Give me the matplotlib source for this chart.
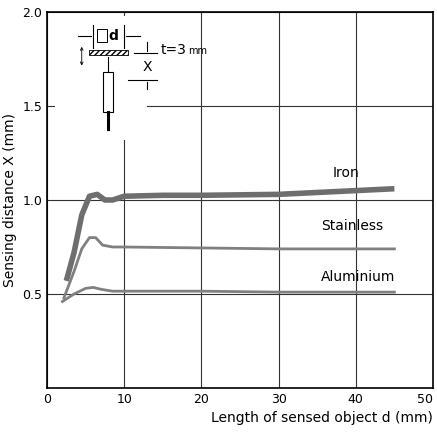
import numpy as np
import matplotlib.pyplot as plt
from matplotlib.patches import Rectangle

iron_d = [2.5, 3.5, 4.5, 5.5, 6.5, 7.5, 8.5, 10, 15, 20, 30, 40, 45]
iron_x = [0.57, 0.72, 0.92, 1.02, 1.03, 1.00, 1.00, 1.02, 1.025, 1.025, 1.03, 1.05, 1.06]
st_d = [2.2, 3.5, 4.5, 5.5, 6.3, 7.2, 8.5, 10, 20, 30, 40, 45]
st_x = [0.48, 0.62, 0.74, 0.80, 0.80, 0.76, 0.75, 0.75, 0.745, 0.74, 0.74, 0.74]
al_d = [2.0, 3.5, 5.0, 6.0, 7.0, 8.5, 10, 20, 30, 40, 45]
al_x = [0.46, 0.50, 0.53, 0.535, 0.525, 0.515, 0.515, 0.515, 0.51, 0.51, 0.51]

fig = plt.figure(figsize=(4.37, 4.37), dpi=100)
ax = fig.add_axes([47/437, 1-388/437, 386/437, 376/437])
ax.set_xlim(0, 50); ax.set_ylim(0, 2.0)
ax.set_xticks([0, 10, 20, 30, 40, 50]); ax.set_yticks([0.5, 1.0, 1.5, 2.0])
ax.set_yticklabels(['0.5', '1.0', '1.5', '2.0'])
ax.grid(True, color='#333333', lw=0.8)
ax.tick_params(length=0, labelsize=9)
ax.get_xticklabels()[-1].set_horizontalalignment('right')
for s in ax.spines.values(): s.set_linewidth(1.2)
ax.plot(iron_d, iron_x, color='#6e6e6e', lw=4, solid_capstyle='butt', zorder=3)
ax.plot(st_d, st_x, color='#808080', lw=2, zorder=3)
ax.plot(al_d, al_x, color='#808080', lw=2, zorder=3)
ax.text(37, 1.12, 'Iron', fontsize=10)
ax.text(35.5, 0.84, 'Stainless', fontsize=10)
ax.text(35.5, 0.57, 'Aluminium', fontsize=10)
ax.set_ylabel('Sensing distance X (mm)', fontsize=10)
ax.set_xlabel('Length of sensed object d (mm)', fontsize=10, loc='right')

T = ax.transAxes
ax.add_patch(Rectangle((0.02, 0.66), 0.24, 0.33, transform=T, fc='white', ec='none', zorder=4))
kw = dict(transform=T, color='black', lw=0.8, zorder=5)
ax.add_patch(Rectangle((0.11, 0.885), 0.10, 0.014, transform=T, fc='white', ec='black', hatch='//////', lw=0.6, zorder=5))
ax.plot([0.12, 0.12], [0.905, 0.965], **kw)
ax.plot([0.20, 0.20], [0.905, 0.965], **kw)
ax.plot([0.08, 0.115], [0.935, 0.935], **kw)
ax.plot([0.205, 0.24], [0.935, 0.935], **kw)
ax.add_patch(Rectangle((0.13, 0.92), 0.026, 0.035, transform=T, fc='white', ec='black', lw=0.7, zorder=5))
ax.text(0.16, 0.937, 'd', transform=T, fontsize=10, fontweight='bold', va='center', zorder=6)
ax.annotate('', xy=(0.09, 0.85), xytext=(0.09, 0.915), xycoords=T,
            arrowprops=dict(arrowstyle='<->', lw=0.6, mutation_scale=5), zorder=5)
ax.plot([0.158, 0.158], [0.84, 0.88], **kw)
ax.add_patch(Rectangle((0.146, 0.735), 0.024, 0.105, transform=T, fc='white', ec='black', lw=0.8, zorder=5))
ax.plot([0.158, 0.158], [0.69, 0.735], transform=T, color='black', lw=2.2, zorder=5)
ax.plot([0.225, 0.285], [0.89, 0.89], **kw)
ax.plot([0.21, 0.285], [0.82, 0.82], **kw)
ax.plot([0.26, 0.26], [0.895, 0.92], **kw)
ax.plot([0.26, 0.26], [0.795, 0.815], **kw)
ax.text(0.26, 0.855, 'X', transform=T, fontsize=10, ha='center', va='center', zorder=6)
ax.text(0.295, 0.90, 't=3', transform=T, fontsize=10, va='center', zorder=6)
ax.text(0.365, 0.897, 'mm', transform=T, fontsize=7, va='center', zorder=6)

fig.savefig('out.png', dpi=100)
